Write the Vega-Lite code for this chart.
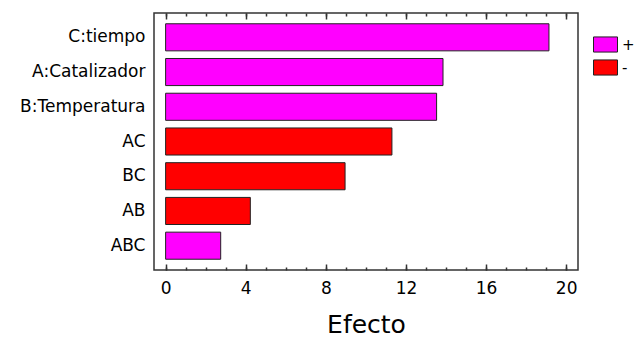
{
  "$schema": "https://vega.github.io/schema/vega-lite/v6.json",
  "autosize": "none",
  "width": 424,
  "height": 257,
  "padding": {"left": 154, "top": 13, "right": 58, "bottom": 67},
  "background": "white",
  "config": {
    "font": "DejaVu Sans",
    "view": {"stroke": "#333333", "strokeWidth": 1.5},
    "axis": {"labelColor": "black", "titleColor": "black", "tickColor": "#333333", "domain": false, "grid": false, "labelFont": "DejaVu Sans", "titleFont": "DejaVu Sans"},
    "legend": {"labelFont": "DejaVu Sans"}
  },
  "data": {
    "values": [
      {"Factor": "C:tiempo", "Efecto": 19.14, "Signo": "+"},
      {"Factor": "A:Catalizador", "Efecto": 13.85, "Signo": "+"},
      {"Factor": "B:Temperatura", "Efecto": 13.53, "Signo": "+"},
      {"Factor": "AC", "Efecto": 11.30, "Signo": "-"},
      {"Factor": "BC", "Efecto": 8.96, "Signo": "-"},
      {"Factor": "AB", "Efecto": 4.23, "Signo": "-"},
      {"Factor": "ABC", "Efecto": 2.75, "Signo": "+"}
    ]
  },
  "resolve": {"axis": {"x": "independent"}},
  "layer": [
    {
      "mark": {"type": "bar", "stroke": "#222222", "strokeWidth": 1},
      "encoding": {
        "y": {
          "field": "Factor", "type": "nominal", "sort": null,
          "scale": {"paddingInner": 0.22, "paddingOuter": 0.31},
          "axis": {"title": null, "ticks": false, "labelFontSize": 17, "labelPadding": 9}
        },
        "x": {
          "field": "Efecto", "type": "quantitative",
          "scale": {"domain": [-0.58, 20.59], "nice": false, "zero": false},
          "axis": {"orient": "bottom", "values": [0, 4, 8, 12, 16, 20], "tickSize": -6, "tickWidth": 1.5, "labelFontSize": 17, "labelPadding": 16, "title": "Efecto", "titleFontSize": 25, "titleFontWeight": "normal", "titlePadding": 16}
        },
        "color": {
          "field": "Signo", "type": "nominal",
          "scale": {"domain": ["+", "-"], "range": ["#FF00FF", "#FF0000"]},
          "legend": {"title": null, "orient": "none", "legendX": 439, "legendY": 19, "padding": 0, "symbolType": "M-1,-0.63H1V0.63H-1Z", "symbolSize": 576, "symbolStrokeColor": "#222222", "symbolStrokeWidth": 1, "symbolOpacity": 1, "labelFontSize": 15, "labelColor": "black", "labelOffset": 4, "rowPadding": 0}
        }
      }
    },
    {
      "mark": {"type": "rule", "opacity": 0},
      "encoding": {
        "x": {"field": "Efecto", "type": "quantitative",
          "axis": {"orient": "bottom", "values": [0,1,2,3,4,5,6,7,8,9,10,11,12,13,14,15,16,17,18,19,20], "tickSize": -3, "tickWidth": 1.5, "labels": false, "title": null}}
      }
    },
    {
      "mark": {"type": "rule", "opacity": 0},
      "encoding": {
        "x": {"field": "Efecto", "type": "quantitative",
          "axis": {"orient": "top", "values": [0, 4, 8, 12, 16, 20], "tickSize": -6, "tickWidth": 1.5, "labels": false, "title": null}}
      }
    },
    {
      "mark": {"type": "rule", "opacity": 0},
      "encoding": {
        "x": {"field": "Efecto", "type": "quantitative",
          "axis": {"orient": "top", "values": [0,1,2,3,4,5,6,7,8,9,10,11,12,13,14,15,16,17,18,19,20], "tickSize": -3, "tickWidth": 1.5, "labels": false, "title": null}}
      }
    }
  ]
}
